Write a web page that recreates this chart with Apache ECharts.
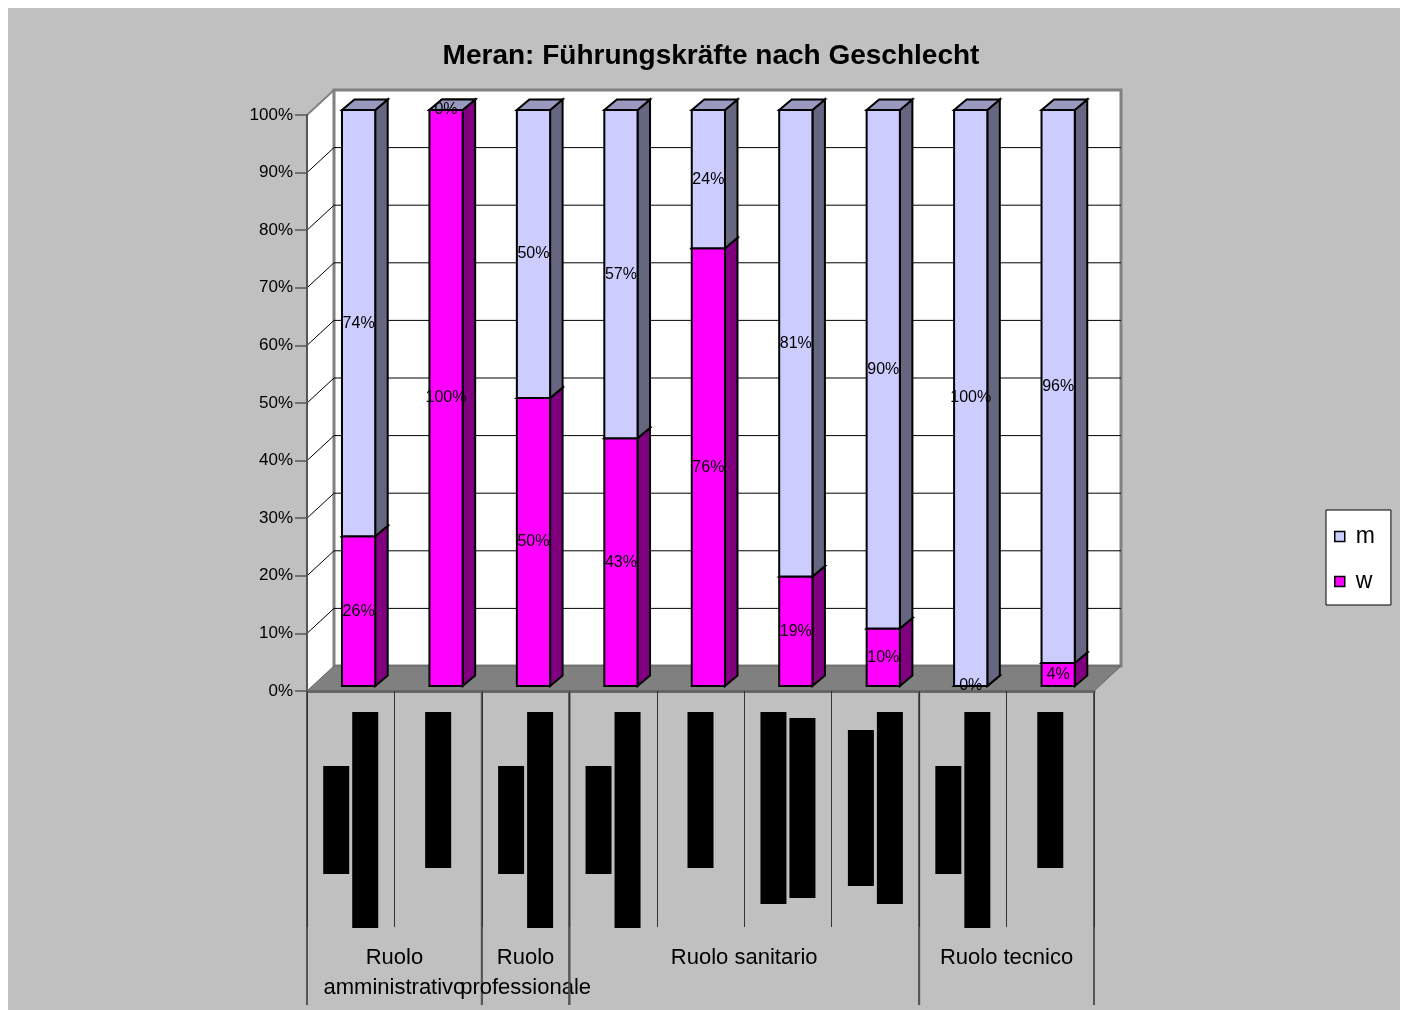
<!DOCTYPE html>
<html>
<head>
<meta charset="utf-8">
<script src="https://cdn.jsdelivr.net/npm/echarts@6/dist/echarts.min.js"></script>
<style>
  html, body { margin: 0; padding: 0; background: #ffffff; }
  #bg { position: absolute; left: 8px; top: 8px; width: 1392px; height: 1002px; background: #c0c0c0; }
  #main { position: absolute; left: 0; top: 0; width: 1405px; height: 1010px; }
</style>
</head>
<body>
<div id="bg"></div>
<div id="main"></div>
<script>
// ---- data ----
const titleText = 'Meran: Führungskräfte nach Geschlecht';
const categories = [
  'Dirigente\nDirettrice ufficio',
  'Capo servizio',
  'Dirigente\nAvvocatura interna',
  'Direttore\nPrimario divisione',
  'Coordinatrice',
  'Dirigente medico\nresponsabile UO',
  'Dirigente vet\npsicologo/fisico',
  'Dirigente\narchitetto tecnico',
  'Capo officina'
];
const groupNames = ['Ruolo\namministrativo', 'Ruolo\nprofessionale', 'Ruolo sanitario', 'Ruolo tecnico'];
const groupStart = [0, 2, 3, 7];
const groupEnd = [1, 2, 6, 8];
const wValues = [26, 100, 50, 43, 76, 19, 10, 0, 4];
const mValues = [74, 0, 50, 57, 24, 81, 90, 100, 96];
const yTicks = [0, 10, 20, 30, 40, 50, 60, 70, 80, 90, 100];
const seriesNames = ['m', 'w'];

// ---- styling constants ----
const WX = 27, WY = -25;          // wall depth
const BDX = 12.5, BDY = -10.5;    // bar depth
const BOFF_X = 0.09, BOFF_Y = -5; // bar front offset
const BAR_W = 0.38;
const colors = {
  m: { front: '#ccccff', side: '#666680', top: '#9999c0' },
  w: { front: '#ff00ff', side: '#800080', top: '#cc00cc' }
};
const FONT = 'Liberation Sans, Arial, sans-serif';

function barRenderer(key, zBase) {
  const col = colors[key];
  return function (params, api) {
    const i = api.value(0), lo = api.value(1), hi = api.value(2);
    const pb = api.coord([i, lo]);
    const pt = api.coord([i, hi]);
    const bw = api.size([1, 0])[0];
    const fw = bw * BAR_W;
    const cx = pb[0] + bw * BOFF_X;
    const x0 = cx - fw / 2, x1 = cx + fw / 2;
    const yb = pb[1] + BOFF_Y, yt = pt[1] + BOFF_Y;
    const stroke = { stroke: '#000', lineWidth: 2, lineJoin: 'miter' };
    return {
      type: 'group',
      children: [
        { type: 'polygon', z2: zBase, shape: { points: [[x1, yb], [x1 + BDX, yb + BDY], [x1 + BDX, yt + BDY], [x1, yt]] },
          style: Object.assign({ fill: col.side }, stroke) },
        { type: 'polygon', z2: zBase, shape: { points: [[x0, yt], [x0 + BDX, yt + BDY], [x1 + BDX, yt + BDY], [x1, yt]] },
          style: Object.assign({ fill: col.top }, stroke) },
        { type: 'rect', z2: zBase, shape: { x: x0, y: yt, width: fw, height: yb - yt },
          style: Object.assign({ fill: col.front }, stroke) },
        { type: 'text', z2: 50, style: { text: Math.round(hi - lo) + '%', x: cx, y: (yb + yt) / 2,
          align: 'center', verticalAlign: 'middle', font: '16px ' + FONT, fill: '#000' } }
      ]
    };
  };
}

function wallRenderer(params, api) {
  const n = categories.length;
  const bw = api.size([1, 0])[0];
  const xL = api.coord([0, 0])[0] - bw / 2;
  const xR = api.coord([n - 1, 0])[0] + bw / 2;
  const y0 = api.coord([0, 0])[1];
  const y100 = api.coord([0, 100])[1];
  const ch = [];
  ch.push({ type: 'polygon', shape: { points: [[xL, y0], [xL, y100], [xL + WX, y100 + WY], [xL + WX, y0 + WY]] },
    style: { fill: '#ffffff' } });
  ch.push({ type: 'rect', shape: { x: xL + WX, y: y100 + WY, width: xR - xL, height: y0 - y100 },
    style: { fill: '#ffffff', stroke: '#808080', lineWidth: 3 } });
  yTicks.forEach(function (v) {
    if (v === 0 || v === 100) return;
    const y = api.coord([0, v])[1];
    ch.push({ type: 'line', shape: { x1: xL + WX, y1: y + WY, x2: xR + WX, y2: y + WY }, style: { stroke: '#000', lineWidth: 1 } });
    ch.push({ type: 'line', shape: { x1: xL, y1: y, x2: xL + WX, y2: y + WY }, style: { stroke: '#000', lineWidth: 1 } });
  });
  ch.push({ type: 'line', shape: { x1: xL, y1: y100, x2: xL + WX, y2: y100 + WY }, style: { stroke: '#808080', lineWidth: 2 } });
  ch.push({ type: 'polygon', shape: { points: [[xL, y0], [xR, y0], [xR + WX, y0 + WY], [xL + WX, y0 + WY]] },
    style: { fill: '#808080', stroke: '#666', lineWidth: 1 } });
  return { type: 'group', children: ch };
}

function groupRenderer(params, api) {
  const s = api.value(0), e = api.value(2);
  const bw = api.size([1, 0])[0];
  const xa = api.coord([s, 0])[0] - bw / 2;
  const xb = api.coord([e, 0])[0] + bw / 2;
  const y0 = api.coord([s, 0])[1];
  return {
    type: 'group',
    children: [
      { type: 'line', shape: { x1: xa, y1: y0, x2: xa, y2: y0 + 314 }, style: { stroke: '#555', lineWidth: 2 } },
      { type: 'line', shape: { x1: xb, y1: y0, x2: xb, y2: y0 + 314 }, style: { stroke: '#555', lineWidth: 2 } },
      { type: 'text', style: { text: groupNames[params.dataIndex], x: (xa + xb) / 2, y: y0 + 252,
        align: 'center', verticalAlign: 'top', font: '22px ' + FONT, lineHeight: 30, fill: '#000' } }
    ]
  };
}

const chart = echarts.init(document.getElementById('main'), null, { renderer: 'canvas' });
chart.setOption({
  backgroundColor: 'transparent',
  animation: false,
  title: {
    text: titleText, left: 706, top: 37, textAlign: 'center',
    textStyle: { fontFamily: FONT, fontWeight: 'bold', fontSize: 28, color: '#000' }
  },
  legend: {
    data: seriesNames, orient: 'vertical', left: 1326, top: 510,
    backgroundColor: '#fff', borderColor: '#000', borderWidth: 1,
    padding: [15, 16, 12, 8], itemGap: 22, icon: 'rect', itemWidth: 10, itemHeight: 10,
    itemStyle: { borderColor: '#000', borderWidth: 1.5 },
    textStyle: { fontFamily: FONT, fontSize: 23, color: '#000', padding: [0, 0, 0, 6] }
  },
  grid: { left: 307, top: 115, right: 311, bottom: 319, containLabel: false },
  xAxis: {
    type: 'category', data: categories, z: 3,
    axisLine: { show: true, lineStyle: { color: '#666', width: 3 } },
    axisTick: { show: true, length: 236, interval: 0, lineStyle: { color: '#333', width: 1 } },
    axisLabel: {
      interval: 0, rotate: 90, margin: 21,
      formatter: function (v) { return v.split('\n').map(function (s) { return '{b|' + s + '}'; }).join('\n'); },
      rich: { b: { fontFamily: 'Liberation Mono', fontSize: 20, color: '#000', backgroundColor: '#000',
        height: 26, lineHeight: 29, align: 'center' } }
    },
    splitLine: { show: false }
  },
  yAxis: {
    type: 'value', min: 0, max: 100, interval: 10, z: 3,
    axisLine: { show: true, lineStyle: { color: '#555', width: 2 } },
    axisTick: { show: true, length: 12, lineStyle: { color: '#555', width: 1.5 } },
    axisLabel: { formatter: '{value}%', margin: 14, fontFamily: FONT, fontSize: 17, color: '#000' },
    splitLine: { show: false }
  },
  series: [
    { type: 'custom', name: 'walls', z: 1, silent: true, clip: false, renderItem: wallRenderer,
      encode: { x: 0, y: 1 }, data: [[0, 0]] },
    { type: 'custom', name: 'groups', z: 1, silent: true, clip: false, renderItem: groupRenderer,
      encode: { x: 0, y: 1 }, data: groupStart.map(function (s, k) { return [s, 0, groupEnd[k]]; }) },
    { type: 'custom', name: 'w', z: 5, clip: false, renderItem: barRenderer('w', 1),
      itemStyle: { color: colors.w.front },
      encode: { x: 0, y: [1, 2] }, data: wValues.map(function (v, i) { return [i, 0, v]; }) },
    { type: 'custom', name: 'm', z: 5, clip: false, renderItem: barRenderer('m', 2),
      itemStyle: { color: colors.m.front },
      encode: { x: 0, y: [1, 2] }, data: mValues.map(function (v, i) { return [i, wValues[i], wValues[i] + v]; }) }
  ]
});
</script>
</body>
</html>
